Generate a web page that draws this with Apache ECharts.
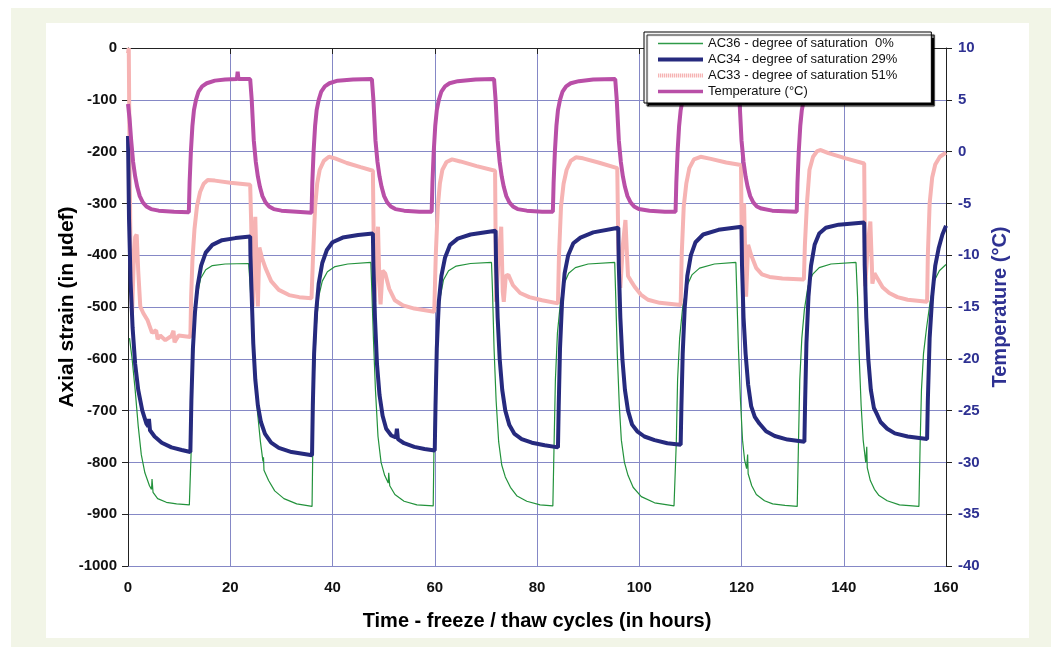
<!DOCTYPE html>
<html>
<head>
<meta charset="utf-8">
<script src="https://cdn.jsdelivr.net/npm/echarts@6.0.0/dist/echarts.min.js"></script>
<style>
  html, body { margin: 0; padding: 0; background: #fff; }
  .frame-outer { position: absolute; left: 11px; top: 8px; width: 1040px; height: 639px; background: #f2f5e7; }
  .frame-inner { position: absolute; left: 46px; top: 23px; width: 983px; height: 615px; background: #fff; }
  #chart { position: absolute; left: 0; top: 0; width: 1051px; height: 647px; }
</style>
</head>
<body>
<div class="frame-outer"></div>
<div class="frame-inner"></div>
<div id="chart"></div>
<script>
// x axis ticks (hours)
const hourTicks = [0, 20, 40, 60, 80, 100, 120, 140, 160];

// AC36 - degree of saturation 0%
const ac36Hours = [0.3, 0.8, 1.4, 2.0, 2.6, 3.3, 4.2, 4.6, 4.7, 4.9, 5.8, 7.5, 9.5, 12.0,
  12.35, 12.6, 13.0, 13.5, 14.2, 15.2, 16.5, 19.0, 23.6,
  23.9, 24.3, 24.8, 25.3, 25.9, 26.4, 26.5, 26.6, 27.5, 28.7, 30.5, 33.0, 36.0,
  36.15, 36.4, 36.8, 37.3, 38.0, 39.0, 40.5, 43.0, 47.5,
  47.7, 48.0, 48.4, 48.9, 49.5, 50.2, 50.9, 51.0, 51.2, 52.2, 54.0, 56.5, 59.7,
  59.85, 60.1, 60.5, 61.0, 61.7, 62.7, 64.2, 67.0, 71.1,
  71.3, 71.6, 72.0, 72.5, 73.1, 73.8, 74.8, 76.1, 78.0, 80.6, 83.1,
  83.35, 83.6, 84.0, 84.6, 85.3, 86.2, 87.5, 90.0, 95.2,
  95.4, 95.7, 96.1, 96.5, 97.1, 97.8, 98.8, 100.4, 103.0, 106.8, 107.1,
  107.25, 107.5, 107.9, 108.5, 109.3, 110.3, 111.8, 114.7, 118.9,
  119.1, 119.4, 119.8, 120.2, 120.6, 121.0, 121.2, 121.3, 122.0, 122.9, 124.5, 126.1, 128.5, 130.9,
  131.15, 131.4, 131.8, 132.3, 133.0, 133.9, 135.2, 137.5, 142.4,
  142.7, 143.0, 143.4, 143.8, 144.3, 144.5, 144.6, 145.2, 146.0, 146.9, 148.5, 150.9, 154.7,
  154.95, 155.2, 155.6, 156.2, 156.9, 157.7, 158.7, 160];
const ac36Strain = [-560, -600, -660, -730, -785, -820, -845, -852, -832, -858, -870, -877, -880, -882,
  -780, -640, -540, -480, -445, -428, -420, -417, -416,
  -460, -530, -620, -700, -760, -798, -790, -815, -835, -855, -870, -880, -885,
  -770, -640, -540, -480, -450, -432, -422, -417, -414,
  -470, -560, -660, -750, -800, -825, -840, -820, -845, -862, -875, -882, -884,
  -770, -640, -550, -485, -448, -430, -421, -416, -414,
  -470, -580, -680, -760, -805, -828, -848, -865, -875, -882, -884,
  -760, -640, -550, -490, -455, -435, -424, -417, -414,
  -480, -590, -690, -757, -800, -825, -848, -866, -878, -884, -884,
  -760, -640, -560, -500, -460, -438, -425, -417, -414,
  -480, -580, -680, -757, -795, -812, -785, -822, -845, -862, -874, -880, -883, -885,
  -760, -640, -560, -505, -460, -437, -424, -417, -414,
  -480, -590, -690, -757, -800, -770, -810, -835, -852, -864, -874, -882, -885,
  -760, -660, -590, -540, -490, -450, -430, -418];

// AC34 - degree of saturation 29%
const ac34Hours = [0, 0.2, 0.5, 0.9, 1.4, 2.0, 2.8, 3.6, 4.0, 4.1, 4.3, 5.2, 6.6, 8.5, 10.5, 12.2,
  12.4, 12.7, 13.1, 13.6, 14.3, 15.2, 16.5, 18.4, 21.0, 23.9,
  23.95, 24.2, 24.5, 24.9, 25.4, 26.0, 26.8, 28.0, 29.5, 32.0, 36.0,
  36.15, 36.4, 36.8, 37.3, 38.0, 38.9, 40.0, 42.0, 45.0, 47.9,
  48.0, 48.3, 48.7, 49.2, 49.8, 50.5, 51.5, 52.4, 52.6, 52.8, 54.0, 56.0, 58.0, 60.0,
  60.15, 60.4, 60.8, 61.3, 62.0, 63.0, 64.5, 67.0, 71.9,
  72.0, 72.3, 72.7, 73.2, 73.8, 74.6, 75.6, 77.0, 79.0, 81.5, 84.1,
  84.25, 84.5, 84.9, 85.4, 86.1, 87.1, 88.5, 91.0, 95.9,
  96.0, 96.3, 96.7, 97.2, 97.8, 98.6, 99.6, 101.0, 103.0, 105.5, 108.1,
  108.25, 108.5, 108.9, 109.4, 110.1, 111.0, 112.5, 115.5, 120.0,
  120.1, 120.4, 120.8, 121.3, 121.9, 122.6, 123.5, 124.8, 126.5, 129.0, 132.3,
  132.45, 132.7, 133.1, 133.6, 134.3, 135.2, 136.5, 139.0, 144.0,
  144.1, 144.4, 144.8, 145.3, 145.9, 146.4, 147.2, 148.5, 150.0, 152.5, 156.3,
  156.45, 156.8, 157.3, 157.9, 158.6, 159.3, 160];
const ac34Strain = [-170, -330, -450, -540, -610, -660, -700, -725, -731, -716, -738, -750, -762, -771, -776, -780,
  -680, -580, -510, -460, -420, -395, -380, -371, -367, -364,
  -400, -480, -570, -640, -690, -722, -745, -762, -772, -780, -786,
  -690, -590, -510, -455, -415, -390, -375, -366, -361, -358,
  -420, -520, -610, -670, -710, -735, -748, -752, -735, -755, -763, -770, -774, -777,
  -690, -580, -490, -440, -405, -380, -368, -360, -353,
  -420, -520, -600, -660, -700, -728, -745, -755, -762, -767, -771,
  -690, -580, -490, -435, -400, -377, -366, -356, -347,
  -420, -520, -600, -660, -700, -727, -740, -750, -757, -763, -766,
  -690, -590, -500, -440, -400, -375, -360, -351, -345,
  -420, -520, -590, -650, -692, -712, -725, -740, -749, -756, -760,
  -680, -570, -480, -420, -380, -358, -347, -341, -337,
  -420, -520, -600, -660, -695, -705, -722, -735, -744, -750, -755,
  -680, -560, -480, -420, -385, -360, -343];

// AC33 - degree of saturation 51%
const ac33Hours = [0, 0.15, 0.3, 0.5, 0.8, 1.1, 1.4, 1.7, 2.0, 2.4, 3.0, 3.8, 4.7, 5.5, 5.8, 6.3, 7.3, 8.5, 8.9, 9.1, 9.9, 12.2,
  12.35, 12.6, 13.0, 13.5, 14.1, 14.8, 15.6, 17.0, 20.0, 23.9,
  24.1, 24.4, 24.7, 24.9, 25.2, 25.4, 25.7, 26.2, 26.9, 28.0, 29.5, 31.5, 33.5, 35.9,
  36.2, 36.6, 37.0, 37.5, 38.3, 39.3, 40.5, 42.8, 45.5, 47.9,
  48.2, 48.6, 48.9, 49.2, 49.4, 49.8, 50.3, 51.1, 52.2, 53.8, 56.0, 59.9,
  60.2, 60.6, 61.0, 61.5, 62.3, 63.4, 65.0, 68.2, 71.8,
  72.0, 72.5, 73.0, 73.3, 73.5, 73.9, 74.4, 75.3, 76.7, 78.5, 81.0, 84.1,
  84.3, 84.7, 85.2, 85.8, 86.6, 87.6, 89.0, 92.0, 95.7,
  95.9, 96.3, 96.8, 97.3, 97.6, 97.8, 98.4, 99.1, 100.3, 101.7, 104.0, 108.1,
  108.3, 108.7, 109.2, 109.8, 110.7, 112.0, 114.0, 117.0, 119.9,
  120.1, 120.5, 120.9, 121.3, 121.9, 122.9, 124.0, 125.5, 128.0, 132.2,
  132.4, 132.8, 133.3, 134.0, 134.8, 135.5, 137.0, 140.4, 144.0,
  144.2, 144.7, 145.2, 145.5, 145.6, 146.0, 146.6, 147.6, 148.9, 150.5, 152.5, 156.3,
  156.45, 156.8, 157.3, 157.9, 158.8, 160];
const ac33Strain = [-10, 0, -200, -400, -512, -420, -365, -360, -430, -499, -512, -525, -550, -545, -562, -555, -564, -556, -546, -568, -555, -558,
  -480, -410, -350, -305, -278, -262, -255, -256, -260, -264,
  -340, -499, -380, -326, -450, -499, -385, -405, -425, -450, -467, -477, -481, -483,
  -400, -306, -262, -235, -218, -210, -213, -222, -230, -237,
  -490, -400, -345, -460, -495, -430, -435, -465, -487, -497, -503, -509,
  -400, -306, -262, -235, -220, -215, -219, -228, -237,
  -490, -400, -345, -470, -490, -440, -438, -458, -473, -481, -487, -493,
  -400, -306, -262, -235, -218, -211, -213, -221, -232,
  -380, -463, -380, -332, -400, -440, -450, -461, -476, -486, -492, -496,
  -400, -306, -262, -232, -215, -210, -214, -221, -226,
  -420, -300, -480, -380, -400, -425, -437, -442, -445, -447,
  -380, -300, -235, -210, -199, -197, -203, -213, -223,
  -460, -380, -335, -420, -455, -435, -445, -462, -473, -481, -486, -490,
  -400, -300, -250, -225, -210, -202];

// Temperature (°C), right axis
const tempHours = [0, 0.3, 0.6, 1.0, 1.4, 1.8, 2.3, 2.9, 3.6, 4.5, 6.0, 9.0, 11.9,
  12.05, 12.3, 12.6, 12.9, 13.3, 13.8, 14.5, 15.4, 17.0, 19.0, 21.3, 21.45, 21.6, 23.9,
  24.2, 24.6, 25.0, 25.4, 25.8, 26.3, 26.9, 27.6, 28.5, 30.0, 33.0, 35.9,
  36.05, 36.3, 36.6, 36.9, 37.3, 37.8, 38.5, 39.4, 41.0, 44.0, 47.7,
  48.0, 48.4, 48.8, 49.2, 49.6, 50.1, 50.7, 51.4, 52.3, 54.0, 57.0, 59.4,
  59.55, 59.8, 60.1, 60.4, 60.8, 61.3, 62.0, 62.9, 64.5, 68.0, 71.6,
  71.9, 72.3, 72.7, 73.1, 73.5, 74.0, 74.6, 75.3, 76.2, 78.0, 81.0, 83.1,
  83.25, 83.5, 83.8, 84.1, 84.5, 85.0, 85.7, 86.6, 88.2, 91.0, 95.3,
  95.6, 96.0, 96.4, 96.8, 97.2, 97.7, 98.3, 99.0, 99.9, 102.0, 105.0, 107.1,
  107.25, 107.5, 107.8, 108.1, 108.5, 109.0, 109.7, 110.6, 112.2, 115.0, 119.3,
  119.6, 120.0, 120.4, 120.8, 121.2, 121.7, 122.3, 123.0, 123.9, 126.0, 130.8,
  130.95, 131.2, 131.5, 131.8, 132.2, 132.7, 133.4, 134.3, 135.5];
const tempValues = [4.6, 3.2, 1.2, -1.0, -2.4, -3.4, -4.3, -4.9, -5.3, -5.55, -5.7, -5.8, -5.85,
  -3.0, 0.0, 2.5, 4.0, 5.0, 5.8, 6.3, 6.6, 6.85, 6.95, 7.0, 7.7, 7.0, 7.0,
  5.0, 1.1, -1.0, -2.4, -3.4, -4.3, -4.9, -5.3, -5.55, -5.7, -5.8, -5.9,
  -3.0, 0.0, 2.5, 4.0, 5.0, 5.8, 6.3, 6.6, 6.85, 6.95, 7.0,
  5.0, 1.1, -1.0, -2.4, -3.4, -4.3, -4.9, -5.3, -5.55, -5.7, -5.8, -5.8,
  -3.0, 0.0, 2.5, 4.0, 5.0, 5.8, 6.3, 6.6, 6.8, 6.95, 7.0,
  5.0, 1.1, -1.0, -2.4, -3.4, -4.3, -4.9, -5.3, -5.55, -5.7, -5.8, -5.8,
  -3.0, 0.0, 2.5, 4.0, 5.0, 5.8, 6.3, 6.6, 6.8, 6.95, 7.0,
  5.0, 1.1, -1.0, -2.4, -3.4, -4.3, -4.9, -5.3, -5.55, -5.7, -5.8, -5.8,
  -3.0, 0.0, 2.5, 4.0, 5.0, 5.8, 6.3, 6.6, 6.8, 6.95, 7.0,
  5.0, 1.1, -1.0, -2.4, -3.4, -4.3, -4.9, -5.3, -5.5, -5.7, -5.8,
  -3.0, 0.0, 2.5, 4.0, 5.0, 5.8, 6.3, 6.6, 6.8];

const zip = (xs, ys) => xs.map((x, i) => [x, ys[i]]);

// legend icons: plain bars of the line's thickness, dashed for AC33
const barIcon = h => 'path://M0,0H45V' + h + 'H0Z';
let dashIcon = 'path://';
for (let i = 0; i < 45; i += 2) dashIcon += 'M' + i + ',0H' + (i + 1.3) + 'V4H' + i + 'Z';

const chart = echarts.init(document.getElementById('chart'));

const fontFamily = 'Arial, "Liberation Sans", sans-serif';
const labelFont = { fontFamily: fontFamily, fontWeight: 'bold', fontSize: 15 };
const navy = '#2e3192';
const gridColor = '#8588c6';

const option = {
  animation: false,
  grid: { left: 128, right: 105, top: 48, bottom: 81, containLabel: false },
  legend: {
    orient: 'vertical',
    left: 644,
    top: 32,
    padding: [5, 34, 5, 14],
    itemWidth: 45,
    itemHeight: 12,
    itemGap: 3,
    itemTextGap: 5,
    symbolKeepAspect: true,
    backgroundColor: '#fff',
    borderColor: '#000',
    borderWidth: 1,
    borderRadius: 0,
    shadowColor: '#000',
    shadowBlur: 1,
    shadowOffsetX: 3,
    shadowOffsetY: 3,
    textStyle: { fontFamily: fontFamily, fontSize: 13, color: '#111' },
    data: [
      { name: 'AC36 - degree of saturation  0%', icon: barIcon(1.6), itemStyle: { color: '#2f9a48' } },
      { name: 'AC34 - degree of saturation 29%', icon: barIcon(4) },
      { name: 'AC33 - degree of saturation 51%', icon: dashIcon },
      { name: 'Temperature (°C)', icon: barIcon(3.5) }
    ]
  },
  xAxis: {
    type: 'value',
    min: hourTicks[0],
    max: hourTicks[hourTicks.length - 1],
    interval: 20,
    name: 'Time - freeze / thaw cycles (in hours)',
    nameLocation: 'middle',
    nameGap: 45,
    nameTextStyle: { fontFamily: fontFamily, fontWeight: 'bold', fontSize: 20, color: '#000' },
    axisLine: { lineStyle: { color: '#222', width: 1 } },
    axisTick: { show: true, length: 6, lineStyle: { color: '#222' } },
    axisLabel: Object.assign({ color: '#111', margin: 14 }, labelFont),
    splitLine: { show: true, lineStyle: { color: gridColor, width: 1 } }
  },
  yAxis: [
    {
      type: 'value',
      min: -1000,
      max: 0,
      interval: 100,
      name: 'Axial strain (in µdef)',
      nameLocation: 'middle',
      nameGap: 50,
      nameRotate: 90,
      nameMoveOverlap: false,
      nameTextStyle: { fontFamily: fontFamily, fontWeight: 'bold', fontSize: 21, color: '#000' },
      axisLine: { show: true, lineStyle: { color: '#222', width: 1 } },
      axisTick: { show: true, length: 6, lineStyle: { color: '#222' } },
      axisLabel: Object.assign({ color: '#111', margin: 11, formatter: v => String(v) }, labelFont),
      splitLine: { show: true, lineStyle: { color: gridColor, width: 1 } }
    },
    {
      type: 'value',
      min: -40,
      max: 10,
      interval: 5,
      position: 'right',
      name: 'Temperature (°C)',
      nameLocation: 'middle',
      nameGap: 44,
      nameRotate: 90,
      nameTextStyle: { fontFamily: fontFamily, fontWeight: 'bold', fontSize: 20, color: navy },
      axisLine: { show: true, lineStyle: { color: '#222', width: 1 } },
      axisTick: { show: true, length: 6, lineStyle: { color: '#222' } },
      axisLabel: Object.assign({ color: navy, margin: 12, formatter: v => String(v) }, labelFont),
      splitLine: { show: false }
    }
  ],
  series: [
    {
      name: 'AC33 - degree of saturation 51%',
      type: 'line',
      symbol: 'none',
      data: zip(ac33Hours, ac33Strain),
      lineStyle: { color: '#f6b3b3', width: 4 },
      itemStyle: { color: '#f6b3b3' },
      z: 2
    },
    {
      name: 'AC36 - degree of saturation  0%',
      type: 'line',
      symbol: 'none',
      data: zip(ac36Hours, ac36Strain),
      lineStyle: { color: '#23923c', width: 1.2 },
      itemStyle: { color: '#23923c' },
      z: 3
    },
    {
      name: 'AC34 - degree of saturation 29%',
      type: 'line',
      symbol: 'none',
      data: zip(ac34Hours, ac34Strain),
      lineStyle: { color: '#262a7e', width: 4 },
      itemStyle: { color: '#262a7e' },
      z: 3
    },
    {
      name: 'Temperature (°C)',
      type: 'line',
      yAxisIndex: 1,
      symbol: 'none',
      data: zip(tempHours, tempValues),
      lineStyle: { color: '#b94fa7', width: 4 },
      itemStyle: { color: '#b94fa7' },
      z: 3
    }
  ]
};

chart.setOption(option);
window.addEventListener('resize', () => chart.resize());
</script>
</body>
</html>
